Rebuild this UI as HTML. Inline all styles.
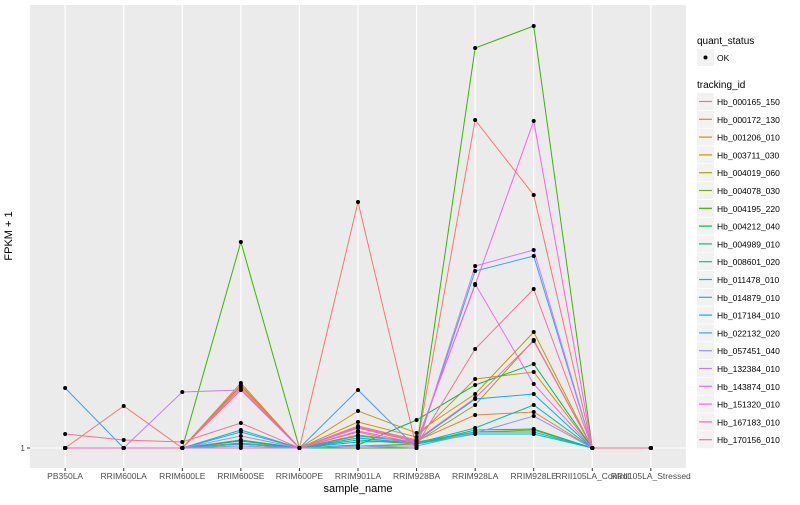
<!DOCTYPE html>
<html><head><meta charset="utf-8"><style>
body{margin:0;background:#fff;}
svg{font-family:"Liberation Sans",Arial,sans-serif;}
</style></head><body>
<svg id="chart" width="800" height="500" viewBox="0 0 800 500">
<rect x="0" y="0" width="800" height="500" fill="#fff"/>
<rect x="30" y="5" width="656" height="463" fill="#EBEBEB"/>
<g id="grid"></g><g id="lines"></g><g id="pts"></g><g id="axes"></g><g id="legend"></g>
<text x="12" y="236" font-size="11" text-anchor="middle" transform="rotate(-90 12 236)">FPKM + 1</text>
<text x="358" y="492" font-size="11" text-anchor="middle">sample_name</text>
</svg>
<script>
const categories=["PB350LA","RRIM600LA","RRIM600LE","RRIM600SE","RRIM600PE","RRIM901LA","RRIM928BA","RRIM928LA","RRIM928LE","RRII105LA_Control","RRII105LA_Stressed"];
const seriesNames=["Hb_000165_150","Hb_000172_130","Hb_001206_010","Hb_003711_030","Hb_004019_060","Hb_004078_030","Hb_004195_220","Hb_004212_040","Hb_004989_010","Hb_008601_020","Hb_011478_010","Hb_014879_010","Hb_017184_010","Hb_022132_020","Hb_057451_040","Hb_132384_010","Hb_143874_010","Hb_151320_010","Hb_167183_010","Hb_170156_010"];
const colors=["#F8766D","#EA8331","#D89000","#C09B00","#A3A500","#7CAE00","#39B600","#00BB4E","#00BF7D","#00C1A3","#00BFC4","#00BAE0","#00B0F6","#35A2FF","#9590FF","#C77CFF","#E76BF3","#FA62DB","#FF62BC","#FF6C91"];
const s01=[1,11.5,1,1,1,62.5,1,83,64.25,1,1];
const s02=[1,1,1,17.25,1,6.25,2.75,9.25,10,1,1];
const s03=[1,1,1,16.5,1,7.5,3.75,18.25,20,1,1];
const s04=[1,1,1,16.75,1,10.25,4.75,14.5,30,1,1];
const s05=[1,1,1,3,1,4.25,2.5,11.75,28,1,1];
const s06=[1,1,1,2.25,1,1.5,2,5,5.5,1,1];
const s07=[1,1,1,52.5,1,1,1,101,106.5,1,1];
const s08=[1,1,1,2.75,1,1.75,8,16.75,22,1,1];
const s09=[1,1,1,2,1,3,2,5.5,5.75,1,1];
const s10=[1,1,1,3,1,3.5,2.25,6,11.75,1,1];
const s11=[1,1,1,5.5,1,4,2.5,5,5,1,1];
const s12=[1,1,1,5,1,3.5,2,4.5,4.5,1,1];
const s13=[1,1,1,2,1,2.5,2.75,13.25,14.5,1,1];
const s14=[16,1,1,2,1,15.5,1,45.25,49,1,1];
const s15=[1,1,1,1.5,1,1.5,1.5,4.75,9,1,1];
const s16=[1,1,15,15.5,1,1.5,1,46.5,50.5,1,1];
const s17=[1,1,1,4,1,5.25,2.25,42,17,1,1];
const s18=[1,1,1,16,1,6,2.5,41.75,82.75,1,1];
const s19=[1,1,1,15.5,1,6.5,3,13.5,27.75,1,1];
const s20=[4.5,3,2.5,7.25,1,5,1.75,25.75,40.75,1,1];
const seriesValues=[s01,s02,s03,s04,s05,s06,s07,s08,s09,s10,s11,s12,s13,s14,s15,s16,s17,s18,s19,s20];
const yTicks=[1];
const NS="http://www.w3.org/2000/svg";
const L=30,R=686,T=5,B=468;
const step=(R-L)/(categories.length-1+1.2);
function xs(i){return L+0.6*step+i*step;}
function ys(v){return 448-(v-1)*4;}
function mk(tag,attrs,parent){const e=document.createElementNS(NS,tag);for(const k in attrs)e.setAttribute(k,attrs[k]);parent.appendChild(e);return e;}
const grid=document.getElementById('grid'),lines=document.getElementById('lines'),pts=document.getElementById('pts'),axes=document.getElementById('axes'),legend=document.getElementById('legend');
categories.forEach((c,i)=>{
 const g=mk('line',{x1:xs(i),x2:xs(i),y1:T,y2:B,stroke:'#fff','stroke-width':1.1},grid);
 
 
 const tk=mk('line',{x1:xs(i),x2:xs(i),y1:B,y2:B+3,stroke:'#333'},axes);
 
 
 const t=mk('text',{x:xs(i),y:479,'font-size':8.5,'text-anchor':'middle',fill:'#4D4D4D'},axes);
 t.textContent=c;
 
 
});
yTicks.forEach(v=>{
 const g=mk('line',{x1:L,x2:R,y1:ys(v),y2:ys(v),stroke:'#fff','stroke-width':1.1},grid);
 
 
 const tk=mk('line',{x1:L-3,x2:L,y1:ys(v),y2:ys(v),stroke:'#333'},axes);
 
 
 const t=mk('text',{x:L-5,y:ys(v)+3,'font-size':8.5,'text-anchor':'end',fill:'#4D4D4D'},axes);
 t.textContent=String(v);
 
 
});
seriesValues.forEach((vals,si)=>{
 const p=mk('polyline',{points:vals.map((v,i)=>xs(i)+','+ys(v)).join(' '),fill:'none',stroke:colors[si],'stroke-width':1},lines);
 
 
 vals.forEach((v,i)=>{
  const c=mk('circle',{cx:xs(i),cy:ys(v),r:2,fill:'#000'},pts);
  
  
 });
});
// legend
let t=mk('text',{x:697,y:44,'font-size':10},legend);t.textContent='quant_status';


let k=mk('rect',{x:697,y:49,width:17,height:17,fill:'#F2F2F2'},legend);


let d=mk('circle',{cx:705.5,cy:57.5,r:2,fill:'#000'},legend);


t=mk('text',{x:717,y:61,'font-size':8.5},legend);t.textContent='OK';


t=mk('text',{x:697,y:88,'font-size':10},legend);t.textContent='tracking_id';


seriesNames.forEach((n,i)=>{
 const y=93+i*17.8;
 const r=mk('rect',{x:697,y:y,width:17,height:17,fill:'#F2F2F2'},legend);
 
 
 const l=mk('line',{x1:699,x2:712,y1:y+8.5,y2:y+8.5,stroke:colors[i],'stroke-width':1.2},legend);
 
 
 const tx=mk('text',{x:717,y:y+12,'font-size':8.5},legend);
 tx.textContent=n;
 
 
});
</script>
</body></html>
